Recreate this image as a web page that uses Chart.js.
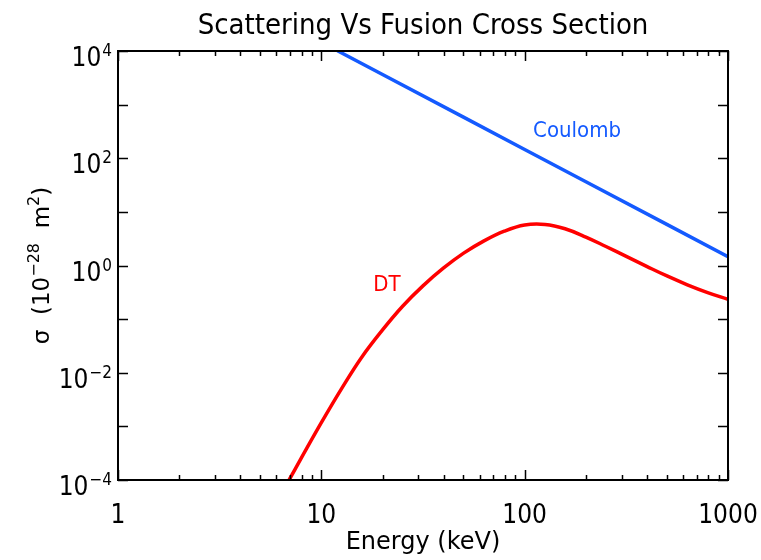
<!DOCTYPE html>
<html>
<head>
<meta charset="utf-8">
<script src="https://cdn.jsdelivr.net/npm/chart.js@4.4.0/dist/chart.umd.min.js"></script>
<style>
  html, body { margin: 0; padding: 0; background: #fff; }
</style>
</head>
<body>
<canvas id="chart" width="761" height="560"></canvas>
<script>
// energy in keV, cross sections in 1e-28 m^2 (barn)
const coulombEnergy = [12, 20, 50, 100, 200, 500, 1000];
const coulombSigma = [10100, 3650, 585, 146, 36.5, 5.85, 1.46];

const dtEnergy = [6.92, 7.94, 10, 12.6, 15.8, 20, 25.1, 31.6, 39.8, 50.1, 63.1, 79.4, 100, 126, 158, 200, 251, 316, 398, 501, 631, 794, 1000];
const dtSigma = [9.8e-5, 2.5e-4, 1.17e-3, 5.1e-3, 0.0195, 0.063, 0.174, 0.417, 0.89, 1.70, 2.88, 4.37, 5.69, 5.82, 4.84, 3.39, 2.26, 1.48, 0.966, 0.638, 0.437, 0.313, 0.234];

const xTickValues = [1, 10, 100, 1000];
const yTickValues = [1e-4, 1e-2, 1, 1e2, 1e4];

const BLUE = "rgb(20, 90, 255)";
const RED = "rgb(255, 0, 0)";
const NARROW = "'Liberation Sans Narrow', 'DejaVu Sans Condensed', 'Liberation Sans', sans-serif";
const PLAIN = "'DejaVu Sans', sans-serif";

function toPoints(xs, ys) {
  return ys.map(function (value, index) {
    return { x: xs[index], y: value };
  });
}

//inner ticks on all four sides plus the box
const frameTicks = {
  id: "frameTicks",
  afterDatasetsDraw(chart) {
    const { ctx, chartArea: a, scales } = chart;
    const x = scales.x, y = scales.y;
    ctx.save();
    ctx.strokeStyle = "#000";
    ctx.lineWidth = 1.5;
    ctx.beginPath();
    for (let d = 1; d < 1000; d *= 10) {
      for (let m = 1; m <= 10; m++) {
        const px = Math.round(x.getPixelForValue(d * m)) + 0.5;
        const len = m === 1 || m === 10 ? 10 : 5;
        ctx.moveTo(px, a.bottom);
        ctx.lineTo(px, a.bottom - len);
        ctx.moveTo(px, a.top);
        ctx.lineTo(px, a.top + len);
      }
    }
    for (let p = -4; p <= 4; p++) {
      const py = Math.round(y.getPixelForValue(Math.pow(10, p))) + 0.5;
      ctx.moveTo(a.left, py);
      ctx.lineTo(a.left + 10, py);
      ctx.moveTo(a.right, py);
      ctx.lineTo(a.right - 10, py);
    }
    ctx.stroke();
    ctx.lineWidth = 2;
    ctx.strokeRect(a.left, a.top, a.right - a.left, a.bottom - a.top);
    ctx.restore();
  }
};

//tick labels with real superscripts, title, y axis title, curve names
const textLayer = {
  id: "textLayer",
  afterDraw(chart) {
    const { ctx, chartArea: a, scales } = chart;
    const x = scales.x, y = scales.y;
    ctx.save();
    ctx.fillStyle = "#000";

    //title over the plot box
    ctx.font = "29px " + NARROW;
    ctx.textAlign = "center";
    ctx.textBaseline = "alphabetic";
    ctx.fillText("Scattering Vs Fusion Cross Section", (a.left + a.right) / 2, 34);

    //x tick labels
    ctx.font = "26px " + NARROW;
    xTickValues.forEach(v => {
      ctx.fillText(String(v), x.getPixelForValue(v), a.bottom + 43);
    });

    //y tick labels: 10 + exponent
    ctx.textAlign = "right";
    yTickValues.forEach(v => {
      const py = y.getPixelForValue(v);
      const exp = String(Math.round(Math.log10(v))).replace("-", "\u2212");
      ctx.font = "17px " + NARROW;
      const ew = ctx.measureText(exp).width;
      ctx.fillText(exp, a.left - 6, py + 5);
      ctx.font = "26px " + NARROW;
      ctx.fillText("10", a.left - 7 - ew, py + 15);
    });

    //y axis title, rotated, with superscripts
    const parts = [
      ["\u03C3  (10", 23, 0],
      ["\u221228", 16, -10],
      ["  m", 23, 0],
      ["2", 16, -10],
      [")", 23, 0]
    ];
    let total = 0;
    parts.forEach(p => { ctx.font = p[1] + "px " + PLAIN; total += ctx.measureText(p[0]).width; });
    ctx.translate(49, (a.top + a.bottom) / 2 + total / 2);
    ctx.rotate(-Math.PI / 2);
    ctx.textAlign = "left";
    let cx = 0;
    parts.forEach(p => {
      ctx.font = p[1] + "px " + PLAIN;
      ctx.fillText(p[0], cx, p[2]);
      cx += ctx.measureText(p[0]).width;
    });
    ctx.restore();

    //curve names placed in data coordinates
    ctx.save();
    ctx.font = "22px " + NARROW;
    ctx.textAlign = "center";
    ctx.textBaseline = "middle";
    ctx.fillStyle = BLUE;
    ctx.fillText("Coulomb", x.getPixelForValue(181), y.getPixelForValue(316));
    ctx.fillStyle = RED;
    ctx.fillText("DT", x.getPixelForValue(21), y.getPixelForValue(0.42));
    ctx.restore();
  }
};

let ctx = document.getElementById("chart").getContext("2d");

let chart = new Chart(ctx, {
  type: "line",
  data: {
    datasets: [
      {
        label: "Coulomb",
        data: toPoints(coulombEnergy, coulombSigma),
        borderColor: BLUE,
        borderWidth: 3.5,
        pointRadius: 0,
        tension: 0
      },
      {
        label: "DT",
        data: toPoints(dtEnergy, dtSigma),
        borderColor: RED,
        borderWidth: 3.5,
        pointRadius: 0,
        tension: 0.4
      }
    ]
  },
  options: {
    responsive: false,
    animation: false,
    layout: { padding: { left: 0, right: 33, top: 51, bottom: 0 } },
    plugins: {
      legend: { display: false },
      tooltip: { enabled: false }
    },
    scales: {
      x: {
        type: "logarithmic",
        min: 1,
        max: 1000,
        afterBuildTicks: (scale) => { scale.ticks = xTickValues.map(v => ({ value: v })); },
        afterFit: (scale) => { scale.height = 80; },
        grid: { display: false, drawTicks: false },
        border: { display: false },
        ticks: { display: false },
        title: {
          display: true,
          text: "Energy (keV)",
          color: "#000",
          font: { family: PLAIN, size: 24, lineHeight: 1.2 },
          padding: { top: 0, bottom: 3 }
        }
      },
      y: {
        type: "logarithmic",
        min: 1e-4,
        max: 1e4,
        afterBuildTicks: (scale) => { scale.ticks = yTickValues.map(v => ({ value: v })); },
        afterFit: (scale) => { scale.width = 118; },
        grid: { display: false, drawTicks: false },
        border: { display: false },
        ticks: { display: false }
      }
    }
  },
  plugins: [frameTicks, textLayer]
});
</script>
</body>
</html>
